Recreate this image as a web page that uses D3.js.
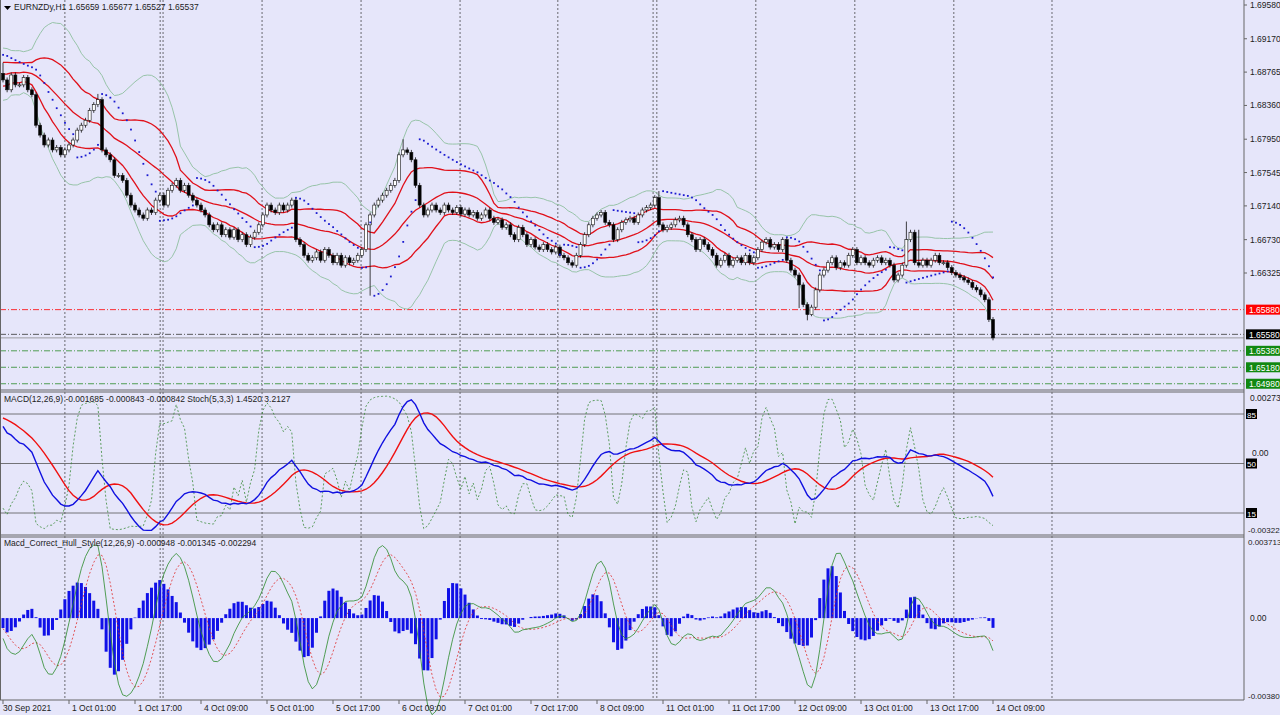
<!DOCTYPE html>
<html><head><meta charset="utf-8">
<script src="https://cdn.jsdelivr.net/npm/d3@7"></script>
<style>body{margin:0;background:#e6e6fa}svg{display:block}text{font-family:"Liberation Sans",Arial,sans-serif;font-size:8.5px}</style>
</head><body><svg id="c" width="1280" height="715"></svg>
<script>
const priorCloses=[1.6800,1.6795,1.6808,1.6815,1.6812,1.6825,1.6830,1.6822,1.6835,1.6842,1.6838,1.6850,1.6846,1.6858,1.6862,1.6855,1.6868,1.6872,1.6866,1.6878,1.6882,1.6876,1.6885,1.6890,1.6884,1.6892,1.6888,1.6895,1.6880,1.6885];
const closes=[1.6867,1.6855,1.6873,1.6861,1.6861,1.6870,1.6855,1.6849,1.6812,1.6800,1.6788,1.6794,1.6782,1.6785,1.6776,1.6782,
1.6788,1.6794,1.6806,1.6812,1.6818,1.6830,1.6837,1.6843,1.6782,1.6776,1.6770,1.6751,1.6751,1.6745,1.6727,1.6715,
1.6709,1.6703,1.6699,1.6709,1.6706,1.6721,1.6727,1.6715,1.6733,1.6739,1.6745,1.6733,1.6739,1.6727,1.6721,1.6715,
1.6709,1.6703,1.6691,1.6685,1.6691,1.6679,1.6685,1.6676,1.6685,1.6673,1.6679,1.6667,1.6676,1.6682,1.6691,1.6703,
1.6715,1.6709,1.6706,1.6715,1.6709,1.6715,1.6721,1.6673,1.6667,1.6654,1.6648,1.6651,1.6658,1.6648,1.6661,1.6654,
1.6645,1.6654,1.6642,1.6651,1.6645,1.6648,1.6654,1.6661,1.6691,1.6703,1.6715,1.6721,1.6727,1.6733,1.6739,1.6745,
1.6776,1.6782,1.6779,1.6770,1.6739,1.6715,1.6703,1.6709,1.6715,1.6709,1.6706,1.6715,1.6709,1.6706,1.6712,1.6704,
1.6709,1.6703,1.6706,1.6699,1.6703,1.6709,1.6699,1.6694,1.6697,1.6688,1.6691,1.6679,1.6673,1.6688,1.6679,1.6667,
1.6673,1.6664,1.6661,1.6667,1.6661,1.6658,1.6664,1.6654,1.6651,1.6645,1.6642,1.6654,1.6667,1.6679,1.6691,1.6699,
1.6703,1.6706,1.6694,1.6691,1.6673,1.6685,1.6694,1.6697,1.6699,1.6694,1.6703,1.6709,1.6712,1.6715,1.6724,1.6691,
1.6685,1.6688,1.6691,1.6697,1.6699,1.6691,1.6679,1.6673,1.6661,1.6673,1.6667,1.6661,1.6654,1.6642,1.6648,1.6654,
1.6642,1.6648,1.6651,1.6645,1.6654,1.6645,1.6651,1.6661,1.6670,1.6673,1.6664,1.6667,1.6661,1.6673,1.6648,1.6636,
1.6630,1.6618,1.6594,1.6582,1.6591,1.6612,1.6630,1.6636,1.6645,1.6651,1.6639,1.6645,1.6642,1.6654,1.6661,1.6645,
1.6651,1.6645,1.6642,1.6648,1.6651,1.6645,1.6648,1.6642,1.6624,1.6630,1.6642,1.6673,1.6682,1.6645,1.6642,1.6648,
1.6642,1.6648,1.6654,1.6645,1.6645,1.6639,1.6633,1.6630,1.6627,1.6624,1.6621,1.6615,1.6612,1.6606,1.6600,1.6576,1.65537];
const firstOpen=1.6875;
const wick=0.0003;
const spikeHighs={23:1.6850,97:1.6795,159:1.6732,219:1.6695,222:1.6685};
const spikeLows={89:1.6605,193:1.6590,195:1.6575,196:1.6580};
const priceTicks=[1.69580,1.69170,1.68765,1.68360,1.67950,1.67545,1.67140,1.66730,1.66325];
const levels=[{p:1.65880,c:"#ff0000",box:"#ff0000"},{p:1.65580,c:"#333",box:"#000"},{p:1.65380,c:"#2a8a2a",box:"#118811"},{p:1.65180,c:"#2a8a2a",box:"#118811"},{p:1.64980,c:"#2a8a2a",box:"#118811"}];
const timeLabels=[[0,"30 Sep 2021"],[16,"1 Oct 01:00"],[32,"1 Oct 17:00"],[48,"4 Oct 09:00"],[64,"5 Oct 01:00"],[80,"5 Oct 17:00"],[96,"6 Oct 09:00"],[112,"7 Oct 01:00"],[128,"7 Oct 17:00"],[144,"8 Oct 09:00"],[160,"11 Oct 01:00"],[176,"11 Oct 17:00"],[192,"12 Oct 09:00"],[208,"13 Oct 01:00"],[224,"13 Oct 17:00"],[240,"14 Oct 09:00"]];
const sepBars=[15,38.1,38.8,62.8,86.8,110.8,134.5,157.6,158.5,182.5,206.5,230.5,254.3];

const svg=d3.select("#c");
const N=closes.length,P=priorCloses.length;
const all=priorCloses.concat(closes);
const opens=[],highs=[],lows=[];
all.forEach((c,k)=>{const o=k===0?c:all[k-1];opens.push(o);const i=k-P;
 highs.push(spikeHighs[i]!==undefined?spikeHighs[i]:Math.max(o,c)+wick);
 lows.push(spikeLows[i]!==undefined?spikeLows[i]:Math.min(o,c)-wick);});
opens[P]=firstOpen;highs[P]=Math.max(highs[P],firstOpen+wick);
function sma(a,n){return a.map((_,i)=>d3.mean(a.slice(Math.max(0,i-n+1),i+1)));}
function ema(a,n){const k=2/(n+1);let r=[];a.forEach((v,i)=>r.push(i===0?v:v*k+r[i-1]*(1-k)));return r;}
function wma(a,n){return a.map((_,i)=>{let s=0,w=0;for(let j=0;j<n&&i-j>=0;j++){s+=a[i-j]*(n-j);w+=n-j;}return s/w;});}
function hma(a,n){const h=wma(a,Math.round(n/2)),f=wma(a,n);return wma(h.map((v,i)=>2*v-f[i]),Math.round(Math.sqrt(n)));}
const mid=sma(all,20);
const sd=all.map((_,i)=>d3.deviation(all.slice(Math.max(0,i-19),i+1))||0);
const e12=ema(all,12),e26=ema(all,26);
const macd=e12.map((v,i)=>v-e26[i]);
const sig=sma(macd,9);
const kraw=all.map((c,i)=>{const lo=d3.min(lows.slice(Math.max(0,i-4),i+1)),hi=d3.max(highs.slice(Math.max(0,i-4),i+1));return [c-lo,hi-lo];});
const stoch=kraw.map((_,i)=>{const s=kraw.slice(Math.max(0,i-2),i+1);const a=d3.sum(s,d=>d[0]),b=d3.sum(s,d=>d[1]);return b?100*a/b:50;});
const h12=hma(all,12),h26=hma(all,26);
const hl=h12.map((v,i)=>(v-h26[i])*0.85);const hs=wma(hl,7);const hh=hl.map((v,i)=>v-hs[i]);
const sar=[];{let up=true,af=0.02,ep=highs[0],s=lows[0];for(let k=0;k<all.length;k++){if(k>0){s=s+af*(ep-s);
 if(up){if(lows[k]<s){up=false;s=ep;ep=lows[k];af=0.02;}else if(highs[k]>ep){ep=highs[k];af=Math.min(0.2,af+0.02);}}
 else{if(highs[k]>s){up=true;s=ep;ep=highs[k];af=0.02;}else if(lows[k]<ep){ep=lows[k];af=Math.min(0.2,af+0.02);}}}
 sar.push(s);}}
const idx=d3.range(N);const g=i=>i+P;
const x=d3.scaleLinear().domain([0,240]).range([3,993]);
const yP=d3.scaleLinear().domain([1.66325,1.69580]).range([273,5]);
const yM=d3.scaleLinear().domain([-0.00322,0.00273]).range([531,397]);
const yS=d3.scaleLinear().domain([15,85]).range([513,414]);
const yH=d3.scaleLinear().domain([-0.00380,0.003713]).range([697,541]);
const W=1244;
sepBars.forEach(b=>svg.append("line").attr("x1",x(b)).attr("x2",x(b)).attr("y1",0).attr("y2",700).attr("stroke","#333").attr("stroke-width",0.7).attr("stroke-dasharray","2,2"));
levels.forEach(l=>svg.append("line").attr("x1",0).attr("x2",W).attr("y1",yP(l.p)).attr("y2",yP(l.p)).attr("stroke",l.c).attr("stroke-width",0.8).attr("stroke-dasharray","6,2,1,2"));
svg.append("line").attr("x1",0).attr("x2",W).attr("y1",yP(1.65537)).attr("y2",yP(1.65537)).attr("stroke","#888").attr("stroke-width",0.8);
const ln=(f,ys)=>d3.line().x(i=>x(i)).y(i=>ys(f(i)));
[2.2,-2.2].forEach(k=>svg.append("path").attr("d",ln(i=>mid[g(i)]+k*sd[g(i)],yP)(idx)).attr("fill","none").attr("stroke","#8fbf9f").attr("stroke-width",0.9));
[1,0,-1].forEach(k=>svg.append("path").attr("d",ln(i=>mid[g(i)]+k*sd[g(i)],yP)(idx)).attr("fill","none").attr("stroke","#e0101a").attr("stroke-width",1.3));
const cg=svg.append("g");
idx.forEach(i=>{const k=g(i),o=opens[k],c=closes[i],X=x(i);
 cg.append("line").attr("x1",X).attr("x2",X).attr("y1",yP(highs[k])).attr("y2",yP(lows[k])).attr("stroke","#111").attr("stroke-width",0.8);
 const t=yP(Math.max(o,c)),b=yP(Math.min(o,c));
 cg.append("rect").attr("x",X-1.5).attr("y",t).attr("width",3).attr("height",Math.max(1,b-t)).attr("fill",c>=o?"#fff":"#000").attr("stroke","#111").attr("stroke-width",0.6);});
idx.forEach(i=>svg.append("rect").attr("x",x(i)-0.8).attr("y",yP(sar[g(i)])-0.8).attr("width",1.8).attr("height",1.8).attr("fill","#1a1ad0"));
[390,392,535,537,700].forEach(a=>svg.append("line").attr("x1",0).attr("x2",W).attr("y1",a).attr("y2",a).attr("stroke","#666"));
svg.append("line").attr("x1",W).attr("x2",W).attr("y1",0).attr("y2",700).attr("stroke","#666");
svg.append("line").attr("x1",0.5).attr("x2",0.5).attr("y1",0).attr("y2",700).attr("stroke","#666");
[85,50,15].forEach(v=>svg.append("line").attr("x1",0).attr("x2",W).attr("y1",yS(v)).attr("y2",yS(v)).attr("stroke","#555").attr("stroke-width",0.8));
svg.append("path").attr("d",ln(i=>stoch[g(i)],yS)(idx)).attr("fill","none").attr("stroke","#3a8a3a").attr("stroke-width",0.8).attr("stroke-dasharray","2,2");
svg.append("path").attr("d",ln(i=>sig[g(i)],yM)(idx)).attr("fill","none").attr("stroke","#f01010").attr("stroke-width",1.4);
svg.append("path").attr("d",ln(i=>macd[g(i)],yM)(idx)).attr("fill","none").attr("stroke","#1010e0").attr("stroke-width",1.4);
idx.forEach(i=>{const v=hh[g(i)];svg.append("rect").attr("x",x(i)-1.5).attr("width",3).attr("y",Math.min(yH(v),yH(0))).attr("height",Math.abs(yH(v)-yH(0))).attr("fill","#1010e8");});
svg.append("path").attr("d",ln(i=>hs[g(i)],yH)(idx)).attr("fill","none").attr("stroke","#e03030").attr("stroke-width",0.8).attr("stroke-dasharray","2,2");
svg.append("path").attr("d",ln(i=>hl[g(i)],yH)(idx)).attr("fill","none").attr("stroke","#2a8a2a").attr("stroke-width",0.8);
const T=(tx,X,Y,fill,fs)=>svg.append("text").attr("x",X).attr("y",Y).text(tx).style("fill",fill||"#222").style("font-size",(fs||8.5)+"px");
priceTicks.forEach(p=>{svg.append("line").attr("x1",W).attr("x2",W+3).attr("y1",yP(p)).attr("y2",yP(p)).attr("stroke","#666");T(p.toFixed(5),1250,yP(p)+3);});
levels.forEach(l=>{svg.append("rect").attr("x",1246).attr("y",yP(l.p)-5).attr("width",34).attr("height",10).attr("fill",l.box);T(l.p.toFixed(5),1249,yP(l.p)+3.5,"#fff");});
T("0.00273",1250,401);T("0.00",1252,456);T("-0.00322",1248,533,"#222",8);
[85,50,15].forEach(v=>{svg.append("rect").attr("x",1246).attr("y",yS(v)-5).attr("width",11).attr("height",10).attr("fill","#000");T(v,1247,yS(v)+3.5,"#fff",8);});
T("0.003713",1248,545,"#222",8);T("0.00",1250,621);T("-0.00380",1248,699,"#222",8);
timeLabels.forEach(([b,s])=>{svg.append("line").attr("x1",x(b)).attr("x2",x(b)).attr("y1",700).attr("y2",704).attr("stroke","#666");T(s,b===0?3:x(b)+3,711);});
svg.append("path").attr("d","M4,6 L11,6 L7.5,10 Z").attr("fill","#000");
T("EURNZDy,H1  1.65659 1.65677 1.65527 1.65537",14,10);
T("MACD(12,26,9) -0.001685 -0.000843 -0.000842  Stoch(5,3,3) 1.4520 3.2127",4,402);
T("Macd_Correct_Hull_Style(12,26,9) -0.000948 -0.001345 -0.002294",4,546);
</script></body></html>
